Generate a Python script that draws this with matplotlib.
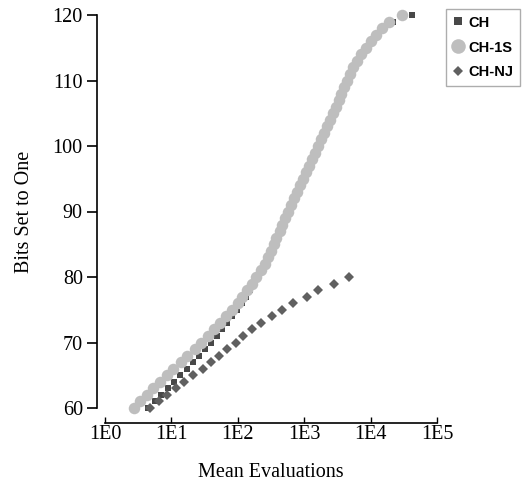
import matplotlib
matplotlib.use("Agg")
import matplotlib.pyplot as plt
from matplotlib.lines import Line2D
from matplotlib.ticker import LogLocator, NullFormatter, FixedLocator

# bits set to one (y) vs mean evaluations (x)
bits_long = list(range(60, 121))
bits_nj = list(range(60, 81))

ch_evals = [4.47, 5.62, 7.08, 8.91, 11.0, 13.5, 17.0, 20.9, 26.3, 32.4,
            39.8, 47.9, 57.5, 69.2, 83.2, 97.7, 115, 132, 155, 178,
            204, 234, 269, 295, 324, 355, 389, 437, 479, 525,
            589, 646, 708, 794, 871, 977, 1072, 1202, 1349, 1479,
            1660, 1862, 2042, 2291, 2512, 2818, 3090, 3388, 3715, 4074,
            4467, 5012, 5495, 6310, 7413, 8710, 10233, 12303, 15488, 21380,
            42658]

ch1s_evals = [2.69, 3.39, 4.27, 5.37, 6.76, 8.51, 10.7, 13.8, 17.4, 22.4,
              28.2, 35.5, 43.7, 53.7, 66.1, 81.3, 100, 117, 138, 162,
              191, 224, 257, 282, 316, 347, 380, 427, 468, 513,
              575, 631, 692, 776, 851, 955, 1047, 1175, 1318, 1445,
              1622, 1820, 1995, 2239, 2455, 2754, 3020, 3311, 3631, 3981,
              4365, 4898, 5370, 6166, 7244, 8511, 10000, 12023, 14791, 19055,
              30200]

chnj_evals = [4.8, 6.4, 8.5, 11.6, 15.5, 21, 29.6, 39, 53, 69,
              93, 121, 164, 221, 323, 458, 670, 1090, 1590, 2830, 4670]

x_ticks = [1, 10, 100, 1000, 10000, 100000]
x_tick_labels = ["1E0", "1E1", "1E2", "1E3", "1E4", "1E5"]
y_ticks = [60, 70, 80, 90, 100, 110, 120]

c_ch = "#484848"
c_1s = "#bebebe"
c_nj = "#606060"

plt.rcParams["font.family"] = "Liberation Serif"
plt.rcParams["font.size"] = 14.5

fig = plt.figure(figsize=(5.24, 4.82), dpi=100)
ax = fig.add_axes([105 / 524, 1 - 408 / 482, 332 / 524, 393 / 482])

ax.plot(ch_evals, bits_long, "s", color=c_ch, markersize=5, markeredgewidth=0, clip_on=False)
ax.plot(ch1s_evals, bits_long, "o", color=c_1s, markersize=8.3, markeredgewidth=0, clip_on=False)
ax.plot(chnj_evals, bits_nj, "D", color=c_nj, markersize=5, markeredgewidth=0, clip_on=False)

ax.set_xscale("log")
ax.set_xlim(1, 100000)
ax.set_ylim(60, 120)

ax.xaxis.set_major_locator(FixedLocator(x_ticks))
ax.set_xticklabels(x_tick_labels)
ax.xaxis.set_minor_locator(LogLocator(base=10, subs=range(2, 10)))
ax.xaxis.set_minor_formatter(NullFormatter())
ax.set_yticks(y_ticks)

for s in ["top", "right"]:
    ax.spines[s].set_visible(False)
ax.spines["left"].set_position(("outward", 6))
ax.spines["bottom"].set_position(("outward", 11))
ax.spines["left"].set_linewidth(1.2)
ax.spines["bottom"].set_linewidth(1.2)

ax.tick_params(axis="y", direction="out", length=7, width=1.2, pad=3)
ax.tick_params(axis="x", which="major", direction="in", length=4, width=1.0, pad=1)
ax.tick_params(axis="x", which="minor", direction="in", length=2.5, width=0.8)

ax.set_xlabel("Mean Evaluations", labelpad=14)
ax.set_ylabel("Bits Set to One", labelpad=13)

handles = [
    Line2D([], [], ls="none", marker="s", color=c_ch, markersize=6, markeredgewidth=0),
    Line2D([], [], ls="none", marker="o", color=c_1s, markersize=10.5, markeredgewidth=0),
    Line2D([], [], ls="none", marker="D", color=c_nj, markersize=5.5, markeredgewidth=0),
]
leg = fig.legend(handles, ["CH", "CH-1S", "CH-NJ"], loc="upper left",
                 bbox_to_anchor=(446 / 524, 1 - 9 / 482), borderaxespad=0,
                 frameon=True, fancybox=False, edgecolor="#999999",
                 prop={"family": "Liberation Sans", "weight": "bold", "size": 10.5},
                 handlelength=0.8, handletextpad=0.3, labelspacing=0.75,
                 borderpad=0.45)
leg.get_frame().set_linewidth(1.0)

fig.savefig("out.png", dpi=100)
